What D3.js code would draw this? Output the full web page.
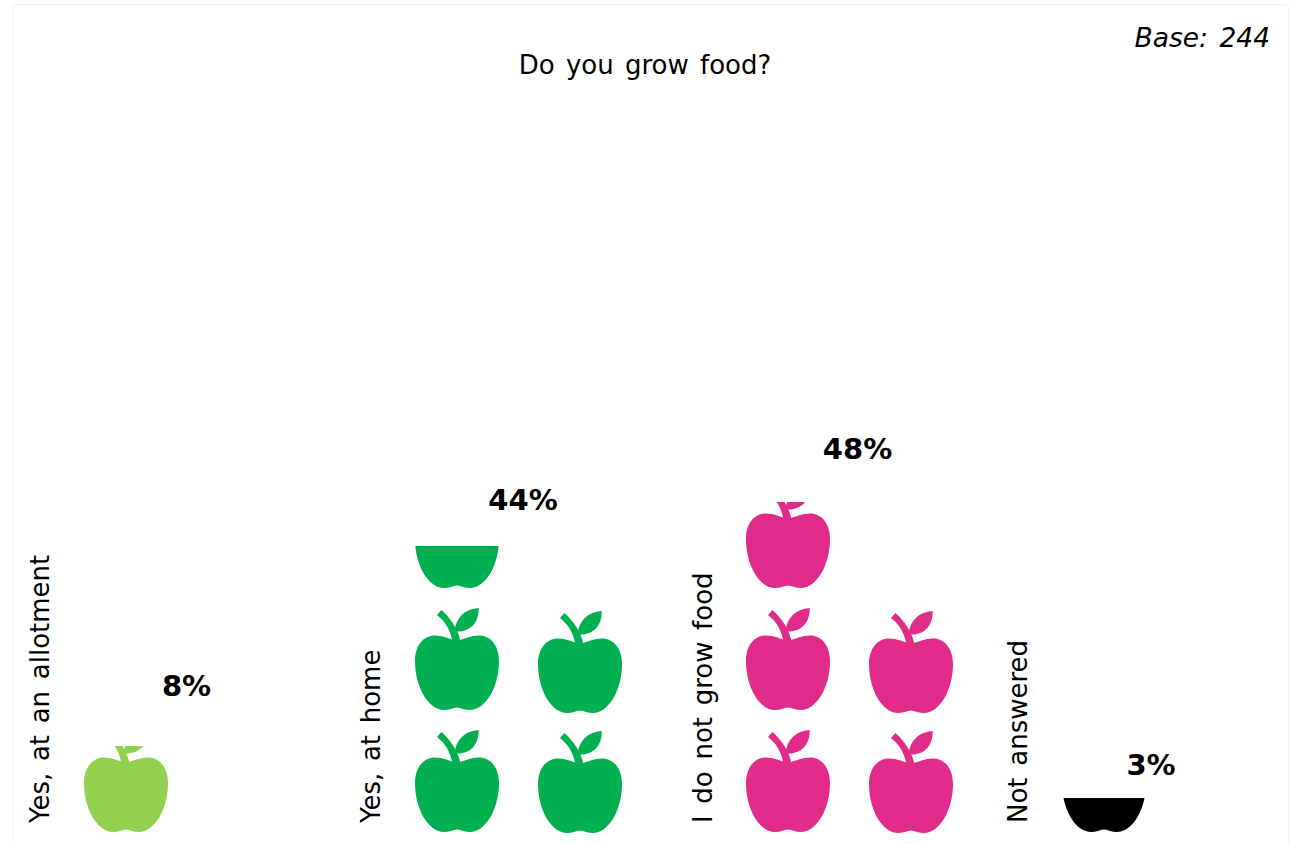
<!DOCTYPE html>
<html>
<head>
<meta charset="utf-8">
<script src="https://cdn.jsdelivr.net/npm/d3@7"></script>
<style>
html,body{margin:0;padding:0;background:#fff;overflow:hidden}
svg{display:block}
text{font-family:"DejaVu Sans",sans-serif;fill:#000}
</style>
</head>
<body>
<svg id="chart" width="1289" height="844"></svg>
<script>
const categories = ["Yes, at an allotment", "Yes, at home", "I do not grow food", "Not answered"];
const percents = [8, 44, 48, 3];
const colours = ["#92d050", "#00b050", "#e02b8a", "#000000"];
const percentPerIcon = 10;
const iconsPerRow = 2;

const svg = d3.select("#chart");

// Card outline behind the chart
svg.append("rect").attr("x", 12.5).attr("y", 4.5).attr("width", 1276).attr("height", 860)
  .attr("rx", 5).attr("fill", "#fff").attr("stroke", "#f2f2f2");

const W = 84, COL = 123;
// Each icon column stacks from its own baseline with its own row pitch
const colBottom = [832, 833], colPitch = [122, 120];

// Group positions are not evenly spread, so each one gets its own slot
const groupX = d3.scaleOrdinal(categories, [84, 415, 746, 1062]);
const labelX = d3.scaleOrdinal(categories, [48.5, 380, 712, 1027]);
const pctX = d3.scaleOrdinal(categories, [186.5, 523, 857.5, 1151]);
const pctY = d3.scaleOrdinal(categories, [696, 510, 459, 775]);
const cellH = d3.scaleLinear().domain([0, 3, 4, 8, percentPerIcon]).range([0, 34, 42, 86, 106]);

const BODY = "M42 33C35 31 28 27.5 20 27.5C8 27.5 0 38 0 53C0 80 14 102 29 102C34 102 38 100 42 99.5C46 100 50 102 55 102C70 102 84 80 84 53C84 38 76 27.5 64 27.5C56 27.5 49 31 42 33Z";
const STEM = "M26.4 2C35.5 10 42.5 20 45.5 33L37.4 33C35 21 30 13 22 6.9Z";
const LEAF = "M39.5 23.5C41 9 50 1 63.7 0C64 15 55 24.5 39.5 23.5Z";

const defs = svg.append("defs");

// Split a percentage into whole icons plus one part icon, filled row by row
function iconsFor(value) {
  const whole = Math.floor(value / percentPerIcon);
  const rest = value - whole * percentPerIcon;
  const out = d3.range(whole).map(i => ({i, share: percentPerIcon}));
  if (rest > 0) out.push({i: whole, share: rest});
  return out;
}

categories.forEach((cat, c) => {
  const g = svg.append("g");
  iconsFor(percents[c]).forEach(d => {
    const col = d.i % iconsPerRow, row = Math.floor(d.i / iconsPerRow);
    const id = `clip-${c}-${d.i}`;
    const h = cellH(d.share);
    const x = groupX(cat) + col * COL;
    const bottom = colBottom[col] - row * colPitch[col];
    defs.append("clipPath").attr("id", id).append("rect")
      .attr("x", -2).attr("y", 102 - h).attr("width", W + 4).attr("height", h + 2);
    const icon = g.append("g")
      .attr("transform", `translate(${x},${bottom - 102})`)
      .append("g").attr("clip-path", `url(#${id})`).attr("fill", colours[c]);
    [BODY, STEM, LEAF].forEach(p => icon.append("path").attr("d", p));
  });
  g.append("text")
    .attr("transform", `translate(${labelX(cat)},823) rotate(-90)`)
    .attr("font-size", 26).attr("word-spacing", 3.4).text(cat);
  g.append("text")
    .attr("x", pctX(cat)).attr("y", pctY(cat)).attr("text-anchor", "middle")
    .attr("font-size", 29).attr("font-weight", "bold").text(percents[c] + "%");
});

svg.append("text").attr("x", 645).attr("y", 74).attr("text-anchor", "middle")
  .attr("font-size", 26).attr("word-spacing", 3).text("Do you grow food?");
svg.append("text").attr("x", 1270).attr("y", 47).attr("text-anchor", "end")
  .attr("font-size", 26.5).attr("word-spacing", 3).attr("font-style", "italic").text("Base: 244");
</script>
</body>
</html>
